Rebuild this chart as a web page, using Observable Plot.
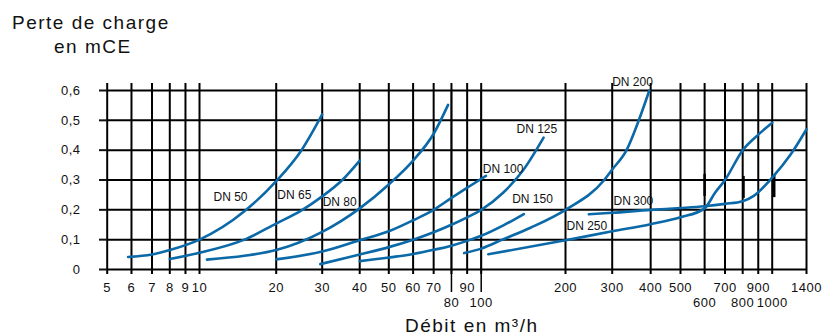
<!DOCTYPE html>
<html>
<head>
<meta charset="utf-8">
<script src="https://cdn.jsdelivr.net/npm/d3@7"></script>
<script src="https://cdn.jsdelivr.net/npm/@observablehq/plot@0.6"></script>
<style>
  html, body { margin: 0; padding: 0; background: #fff; }
  #wrap { position: relative; width: 824px; height: 334px; font-family: "Liberation Sans", Arial, sans-serif; color: #111; }
  .ttl { position: absolute; font-size: 19px; line-height: 19px; letter-spacing: 1.5px; white-space: nowrap; }
  #chart { position: absolute; left: 0; top: 70px; }
  #chart g[aria-label$="tick label"] text, #chart g.ticklab text { letter-spacing: 0.5px; }
</style>
</head>
<body>
<div id="wrap">
  <div class="ttl" style="left:12px; top:12.5px;">Perte de charge</div>
  <div class="ttl" style="left:54px; top:37px;">en mCE</div>
  <div id="chart"></div>
  <div class="ttl" style="left:405px; top:315.5px;">Débit en m³/h</div>
</div>
<script>
// ---- axis ticks ----
const xTicks = [5,6,7,8,9,10,20,30,40,50,60,70,80,90,100,200,300,400,500,600,700,800,900,1000,1400];
const xTicksRow1 = [5,6,7,8,9,10,20,30,40,50,60,70,90,200,300,400,500,700,900,1400];
const xTicksRow2 = [80,100,600,800,1000];
const xLongTicks = [80,100];
const yTicks = [0,0.1,0.2,0.3,0.4,0.5,0.6];
const yTickLabels = ["0","0,1","0,2","0,3","0,4","0,5","0,6"];

// ---- curves: flow (m3/h) and head loss (mCE) ----
const dn50Q  = [5.85, 7, 8, 10, 15, 20, 25, 30];
const dn50H  = [0.042, 0.05, 0.065, 0.10, 0.195, 0.296, 0.40, 0.52];
const dn65Q  = [8, 10, 15, 20, 25, 30, 35, 40];
const dn65H  = [0.035, 0.056, 0.10, 0.154, 0.198, 0.245, 0.30, 0.365];
const dn80Q  = [10.7, 15, 20, 30, 40, 50, 60, 70, 78];
const dn80H  = [0.033, 0.046, 0.065, 0.126, 0.205, 0.285, 0.365, 0.455, 0.552];
const dn100Q = [20, 30, 40, 50, 60, 70, 80, 90, 104];
const dn100H = [0.034, 0.06, 0.098, 0.128, 0.165, 0.20, 0.24, 0.274, 0.314];
const dn125Q = [29.5, 40, 50, 60, 70, 80, 90, 100, 120, 142, 167];
const dn125H = [0.018, 0.05, 0.075, 0.10, 0.125, 0.15, 0.175, 0.20, 0.258, 0.336, 0.442];
const dn150Q = [40, 50, 60, 70, 80, 90, 100, 120, 142];
const dn150H = [0.028, 0.04, 0.052, 0.066, 0.08, 0.096, 0.113, 0.148, 0.186];
const dn200Q = [88, 100, 119, 150, 200, 280, 300, 334, 366, 396];
const dn200H = [0.055, 0.07, 0.10, 0.14, 0.20, 0.30, 0.335, 0.40, 0.50, 0.60];
const dn250Q = [106, 200, 300, 400, 500, 600, 650, 700, 800, 900, 1000];
const dn250H = [0.051, 0.098, 0.128, 0.152, 0.175, 0.205, 0.258, 0.30, 0.40, 0.452, 0.492];
const dn300Q = [245, 300, 400, 500, 600, 700, 800, 870, 1000, 1200, 1400];
const dn300H = [0.185, 0.19, 0.20, 0.206, 0.212, 0.22, 0.229, 0.247, 0.308, 0.386, 0.47];

// ---- curve labels ----
const labelText = ["DN 50","DN 65","DN 80","DN 100","DN 125","DN 150","DN 200","DN 250","DN\u2009300"];
const labelQ    = [11.35, 20.2, 30.1, 101.3, 133.7, 129, 300, 201.7, 303];
const labelH    = [0.243, 0.25, 0.226, 0.336, 0.472, 0.237, 0.627, 0.146, 0.229];

// ---- short vertical markers ----
const markQ  = [600, 805, 1020];
const markH1 = [0.245, 0.238, 0.241];
const markH2 = [0.319, 0.312, 0.315];

const series = [
  ["DN 50", dn50Q, dn50H], ["DN 65", dn65Q, dn65H], ["DN 80", dn80Q, dn80H],
  ["DN 100", dn100Q, dn100H], ["DN 125", dn125Q, dn125H], ["DN 150", dn150Q, dn150H],
  ["DN 200", dn200Q, dn200H], ["DN 250", dn250Q, dn250H], ["DN 300", dn300Q, dn300H]
];
const table = series.flatMap(([dn, qs, hs]) => qs.map((q, i) => ({dn, q, h: hs[i]})));
const labels = labelText.map((t, i) => ({t, q: labelQ[i], h: labelH[i]}));
const marks = markQ.map((q, i) => ({q, h1: markH1[i], h2: markH2[i]}));
const yFmt = new Map(yTicks.map((t, i) => [t, yTickLabels[i]]));

const blue = "#0b69a8";

// The original nomogram's logarithmic axis is hand-drawn and slightly uneven:
// a piecewise log scale reproduces its graduation.
const xScale = {
  type: "log",
  domain: [5, 10, 20, 30, 50, 100, 200, 300, 500, 1000, 1400],
  range:  [106.7, 199, 275.7, 321.7, 388.3, 480.7, 565, 611.7, 680, 771.7, 806],
  axis: null
};

const chart = Plot.plot({
  width: 824,
  height: 240,
  marginLeft: 107,
  marginRight: 18,
  marginTop: 20,
  marginBottom: 41,
  style: {fontFamily: "'Liberation Sans', Arial, sans-serif", fontSize: "13px", background: "transparent", overflow: "visible", color: "#111"},
  x: xScale,
  y: {domain: [0, 0.6]},
  marks: [
    Plot.ruleY(yTicks, {stroke: "#000", strokeWidth: 2}),
    Plot.ruleX(xTicks, {stroke: "#000", strokeWidth: 2, insetTop: -7, insetBottom: -5}),
    Plot.ruleX(xLongTicks, {stroke: "#000", strokeWidth: 1.5, insetBottom: -23}),
    Plot.axisY({ticks: yTicks, tickFormat: d => yFmt.get(d), tickSize: 8, tickPadding: 19, strokeWidth: 2, fontSize: 13, label: null}),
    Plot.text(xTicksRow1, {x: d => d, text: d => String(d), frameAnchor: "bottom", lineAnchor: "top", dy: 13, fontSize: 13, fill: "#111", className: "ticklab"}),
    Plot.text(xTicksRow2, {x: d => d, text: d => String(d), frameAnchor: "bottom", lineAnchor: "top", dy: 28, fontSize: 13, fill: "#111", className: "ticklab"}),
    Plot.ruleX(marks, {x: "q", y1: "h1", y2: "h2", stroke: "#000", strokeWidth: 2.5}),
    Plot.line(table, {x: "q", y: "h", z: "dn", stroke: blue, strokeWidth: 2.6, curve: "monotone-x"}),
    Plot.text(labels, {x: "q", y: "h", text: "t", textAnchor: "start", lineAnchor: "middle", fontSize: 12, fill: "#111"})
  ]
});
document.getElementById("chart").appendChild(chart);
</script>
</body>
</html>
